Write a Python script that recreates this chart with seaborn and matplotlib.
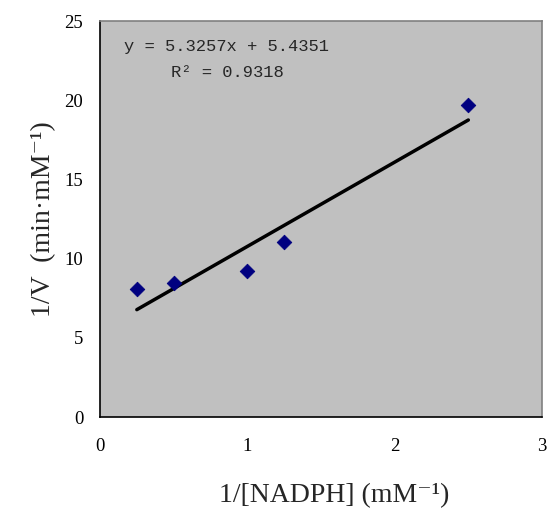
import numpy as np
import pandas as pd
import matplotlib
matplotlib.use("Agg")
import matplotlib.pyplot as plt
import seaborn as sns

# data
x_vals = [0.25, 0.5, 1.0, 1.25, 2.5]
y_vals = [8.1, 8.45, 9.2, 11.05, 19.7]
x_ticks = [0, 1, 2, 3]
y_ticks = [0, 5, 10, 15, 20, 25]
eq_text = "y = 5.3257x + 5.4351"
r2_text = "R² = 0.9318"
x_label = "1/[NADPH] (mM⁻¹)"
y_label = "1/V  (min·mM⁻¹)"

sns.set_style("white")
serif = ["Liberation Serif", "DejaVu Serif"]
mono = ["Liberation Mono", "DejaVu Sans Mono"]
plt.rcParams["font.family"] = serif

df = pd.DataFrame({"x": x_vals, "y": y_vals})
slope, intercept = np.polyfit(df["x"], df["y"], 1)
fit = pd.DataFrame({"x": [min(x_vals), max(x_vals)]})
fit["y"] = slope * fit["x"] + intercept

fig = plt.figure(figsize=(5.51, 5.11), dpi=100)
ax = fig.add_axes([100/551, (511-417)/511, 442/551, 396/511])
ax.set_facecolor("#C0C0C0")

sns.lineplot(data=fit, x="x", y="y", ax=ax, color="black", linewidth=2.5, zorder=2)
sns.scatterplot(data=df, x="x", y="y", ax=ax, marker="D", color="#000080",
                s=55, edgecolor="#000080", zorder=3)

ax.set_xlim(0, 3)
ax.set_ylim(0, 25)
ax.set_xticks(x_ticks)
ax.set_yticks(y_ticks)
ax.tick_params(axis="both", direction="in", length=5, width=1, labelsize=13.5, colors="black")
ax.tick_params(axis="x", pad=15)
ax.tick_params(axis="y", pad=12)

for s in ["left", "bottom"]:
    ax.spines[s].set_color("black")
    ax.spines[s].set_linewidth(1.2)
for s in ["top", "right"]:
    ax.spines[s].set_color("#808080")
    ax.spines[s].set_linewidth(1.2)

ax.set_xlabel(x_label, fontsize=20, labelpad=20, family=serif)
ax.set_ylabel(y_label, fontsize=20, labelpad=6, family=serif)
ax.xaxis.label.set_x(0.53)

ax.text(0.055, 0.936, eq_text, transform=ax.transAxes, fontsize=12.3, family=mono, va="center", ha="left")
ax.text(0.16, 0.871, r2_text, transform=ax.transAxes, fontsize=12.3, family=mono, va="center", ha="left")

fig.savefig("out.png", dpi=100)
